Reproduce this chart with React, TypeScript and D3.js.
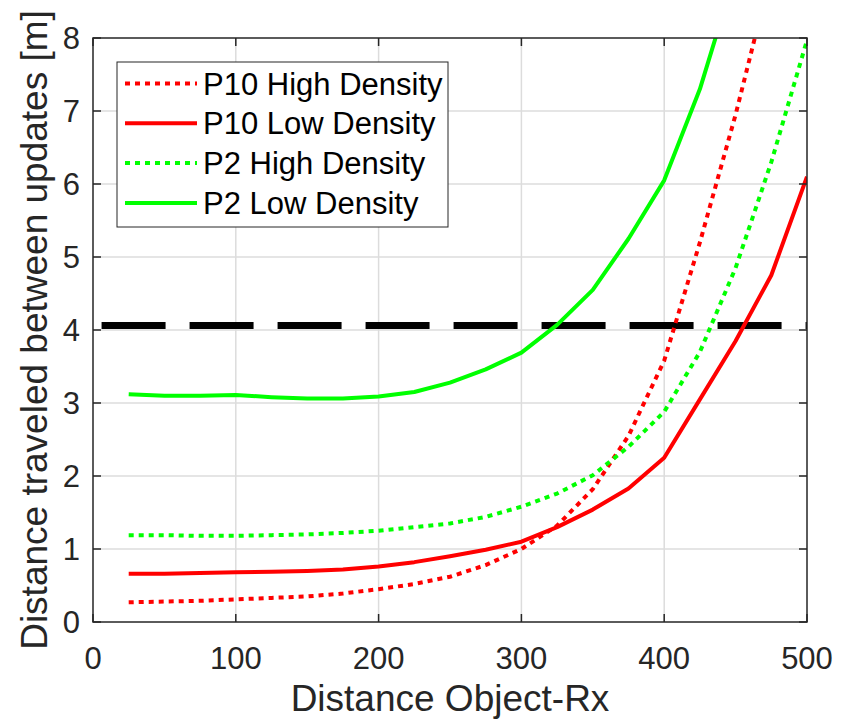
import React from "react";
import * as d3 from "d3";

// distance object-Rx [m]
const distance = [25, 50, 75, 100, 125, 150, 175, 200, 225, 250, 275, 300, 325, 350, 375, 400, 425, 450, 475, 500];

// distance travelled between updates [m]
const p10High = [0.27, 0.28, 0.29, 0.31, 0.33, 0.35, 0.39, 0.45, 0.52, 0.62, 0.78, 1.0, 1.32, 1.82, 2.55, 3.58, 5.2, 6.95, 8.9, null];
const p10Low = [0.66, 0.66, 0.67, 0.68, 0.69, 0.7, 0.72, 0.76, 0.82, 0.9, 0.99, 1.1, 1.3, 1.54, 1.83, 2.25, 3.05, 3.85, 4.75, 6.1];
const p2High = [1.19, 1.19, 1.18, 1.18, 1.19, 1.2, 1.22, 1.25, 1.3, 1.35, 1.44, 1.58, 1.76, 2.01, 2.4, 2.88, 3.7, 4.85, 6.3, 7.97];
const p2Low = [3.12, 3.1, 3.1, 3.11, 3.08, 3.06, 3.06, 3.09, 3.15, 3.28, 3.46, 3.69, 4.07, 4.55, 5.25, 6.05, 7.3, 8.9, null, null];

const thresholdX = [6, 500];
const thresholdY = 4.06;

const xTicks = [0, 100, 200, 300, 400, 500];
const yTicks = [0, 1, 2, 3, 4, 5, 6, 7, 8];

const seriesNames = ["P10 High Density", "P10 Low Density", "P2 High Density", "P2 Low Density"];
const seriesColors = ["#ff0000", "#ff0000", "#00ff00", "#00ff00"];
const seriesDotted = [true, false, true, false];
const seriesValues = [p10High, p10Low, p2High, p2Low];

const W = 846;
const H = 721;
const margin = { top: 38, right: 39, bottom: 99, left: 93 };
const FONT = "'Liberation Sans', Arial, Helvetica, sans-serif";
const AXIS = "#262626";

export default function App() {
  const x = d3.scaleLinear().domain([0, 500]).range([margin.left, W - margin.right]);
  const y = d3.scaleLinear().domain([0, 8]).range([H - margin.bottom, margin.top]);

  const line = d3
    .line<[number, number | null]>()
    .defined((d) => d[1] !== null)
    .x((d) => x(d[0]))
    .y((d) => y(d[1] as number));

  const x0 = x(0), x1 = x(500), y0 = y(0), y1 = y(8);
  const tickLen = 8;

  const legend = { x: 117, y: 62, w: 331, h: 165, row: 39.8 };

  return (
    <svg
      width={W}
      height={H}
      style={{ position: "absolute", left: 0, top: 0, background: "#fff" }}
      fontFamily={FONT}
    >
      <defs>
        <clipPath id="plot">
          <rect x={x0} y={y1} width={x1 - x0} height={y0 - y1} />
        </clipPath>
      </defs>

      {/* grid */}
      <g stroke="#dcdcdc" strokeWidth={1.5}>
        {xTicks.slice(1, -1).map((t) => (
          <line key={"gx" + t} x1={x(t)} x2={x(t)} y1={y1} y2={y0} />
        ))}
        {yTicks.slice(1, -1).map((t) => (
          <line key={"gy" + t} x1={x0} x2={x1} y1={y(t)} y2={y(t)} />
        ))}
      </g>

      {/* series */}
      <g clipPath="url(#plot)" fill="none">
        <line
          x1={x(thresholdX[0])}
          x2={x(thresholdX[1])}
          y1={y(thresholdY)}
          y2={y(thresholdY)}
          stroke="#000"
          strokeWidth={7}
          strokeDasharray="64,24"
        />
        {seriesValues.map((vals, i) => (
          <path
            key={seriesNames[i]}
            d={line(distance.map((d, j) => [d, vals[j]]) as [number, number | null][]) || ""}
            stroke={seriesColors[i]}
            strokeWidth={4}
            strokeDasharray={seriesDotted[i] ? "5,5" : undefined}
            strokeLinejoin="round"
          />
        ))}
      </g>

      {/* axes box and ticks */}
      <g stroke={AXIS} strokeWidth={1.5} fill="none">
        <rect x={x0} y={y1} width={x1 - x0} height={y0 - y1} />
        {xTicks.map((t) => (
          <g key={"tx" + t}>
            <line x1={x(t)} x2={x(t)} y1={y0} y2={y0 - tickLen} />
            <line x1={x(t)} x2={x(t)} y1={y1} y2={y1 + tickLen} />
          </g>
        ))}
        {yTicks.map((t) => (
          <g key={"ty" + t}>
            <line x1={x0} x2={x0 + tickLen} y1={y(t)} y2={y(t)} />
            <line x1={x1} x2={x1 - tickLen} y1={y(t)} y2={y(t)} />
          </g>
        ))}
      </g>

      {/* tick labels */}
      <g fill={AXIS} fontSize={31}>
        {xTicks.map((t) => (
          <text key={"lx" + t} x={x(t)} y={669} textAnchor="middle">
            {t}
          </text>
        ))}
        {yTicks.map((t) => (
          <text key={"ly" + t} x={80} y={y(t) + 11} textAnchor="end">
            {t}
          </text>
        ))}
      </g>

      {/* axis labels */}
      <text x={(x0 + x1) / 2} y={711} textAnchor="middle" fontSize={37} fill={AXIS}>
        Distance Object-Rx
      </text>
      <text
        transform={`translate(47, ${(y0 + y1) / 2}) rotate(-90)`}
        textAnchor="middle"
        fontSize={37}
        fill={AXIS}
      >
        Distance traveled between updates [m]
      </text>

      {/* legend */}
      <g>
        <rect
          x={legend.x}
          y={legend.y}
          width={legend.w}
          height={legend.h}
          fill="#fff"
          stroke={AXIS}
          strokeWidth={1}
        />
        {seriesNames.map((name, i) => {
          const cy = legend.y + 21.5 + i * legend.row;
          return (
            <g key={"lg" + name}>
              <line
                x1={125}
                x2={197}
                y1={cy}
                y2={cy}
                stroke={seriesColors[i]}
                strokeWidth={4}
                strokeDasharray={seriesDotted[i] ? "5,5" : undefined}
              />
              <text x={203} y={cy + 11} fontSize={31} fill="#000">
                {name}
              </text>
            </g>
          );
        })}
      </g>
    </svg>
  );
}
